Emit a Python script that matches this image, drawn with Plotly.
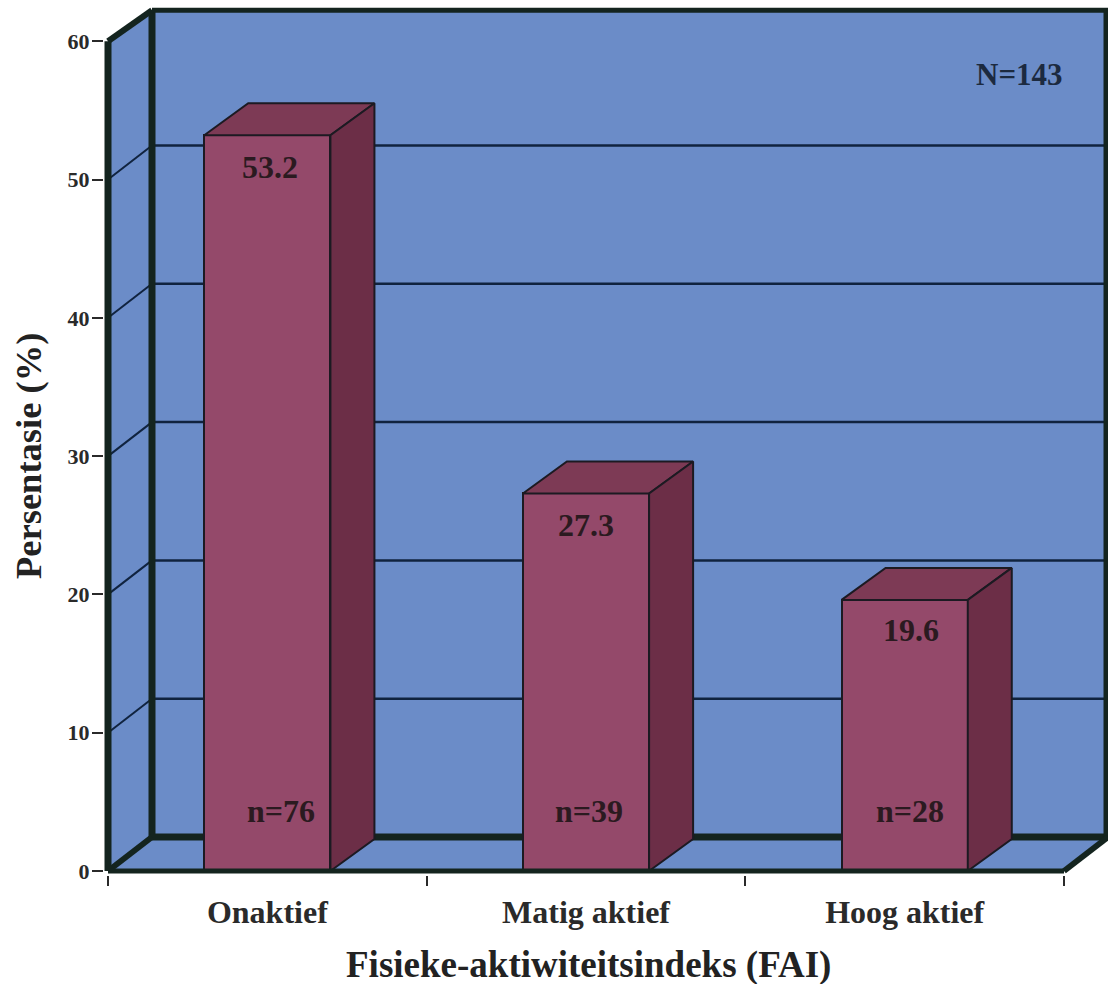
import plotly.graph_objects as go

categories = ["Onaktief", "Matig aktief", "Hoog aktief"]
percentages = [53.2, 27.3, 19.6]
counts = ["n=76", "n=39", "n=28"]
y_ticks = [0, 10, 20, 30, 40, 50, 60]
x_edges = [-0.5, 0.5, 1.5, 2.5]

PX_X = 318.67
PX_Y = 13.83
BAR_W = 0.396
DX = 44 / PX_X
DY = 32 / PX_Y
WALL_DY = 34 / PX_Y
TOP_DY = 31 / PX_Y
X0, X1 = -0.5, 2.5
Y_TOP = 60
WALL = "#6b8cc8"
EDGE = "#14241f"
GRID = "#10233f"
FRONT = "#94496a"
TOP = "#7d3a55"
SIDE = "#6c2e47"
BAR_EDGE = "#1c1a22"
FONT = "Liberation Serif"
PLOT_L, PLOT_B, W = 104, 875, 1108


def poly(xs, ys, fill):
    path = "M " + " L ".join(f"{x},{y}" for x, y in zip(xs, ys)) + " Z"
    return dict(type="path", path=path, xref="x", yref="y", fillcolor=fill,
                line=dict(color="rgba(0,0,0,0)", width=0), layer="below")


def seg(x0, y0, x1, y1, color, width, layer="below"):
    return dict(type="line", xref="x", yref="y", x0=x0, y0=y0, x1=x1, y1=y1,
                line=dict(color=color, width=width), layer=layer)


wall_top = Y_TOP + TOP_DY
shapes = [
    poly([X0 + DX, X1 + DX, X1 + DX, X0 + DX], [WALL_DY, WALL_DY, wall_top, wall_top], WALL),
    poly([X0, X0 + DX, X0 + DX, X0], [0, WALL_DY, wall_top, Y_TOP], WALL),
    poly([X0, X1, X1 + DX, X0 + DX], [0, 0, WALL_DY, WALL_DY], WALL),
]
for t in y_ticks[1:-1]:
    shapes.append(seg(X0 + DX, t + WALL_DY, X1 + DX, t + WALL_DY, GRID, 2.5))
    shapes.append(seg(X0, t, X0 + DX, t + WALL_DY, GRID, 2))
shapes += [
    seg(X0 + DX, WALL_DY, X1 + DX, WALL_DY, EDGE, 7),
    seg(X0 + DX, WALL_DY, X0 + DX, wall_top, EDGE, 7),
    seg(X0 + DX, wall_top, X1 + DX, wall_top, EDGE, 5),
    seg(X1 + DX, WALL_DY, X1 + DX, wall_top, EDGE, 9),
    seg(X0, Y_TOP, X0 + DX, wall_top, EDGE, 6),
    seg(X0, 0, X0 + DX, WALL_DY, EDGE, 6),
    seg(X1, 0, X1 + DX, WALL_DY, EDGE, 6),
    seg(X0, 0, X0, Y_TOP, EDGE, 7),
    seg(X0, 0, X1, 0, EDGE, 5, layer="above"),
]

fig = go.Figure()
fig.add_trace(go.Bar(x=list(range(3)), y=percentages, width=BAR_W, marker=dict(
    color=FRONT, line=dict(color=BAR_EDGE, width=2)), hoverinfo="skip", showlegend=False))

for i, v in enumerate(percentages):
    l, r = i - BAR_W / 2, i + BAR_W / 2
    fig.add_trace(go.Scatter(x=[l, r, r + DX, l + DX, l], y=[v, v, v + DY, v + DY, v], mode="lines",
                             fill="toself", fillcolor=TOP, line=dict(color=BAR_EDGE, width=2),
                             hoverinfo="skip", showlegend=False))
    fig.add_trace(go.Scatter(x=[r, r + DX, r + DX, r, r], y=[0, DY, v + DY, v, 0], mode="lines",
                             fill="toself", fillcolor=SIDE, line=dict(color=BAR_EDGE, width=2),
                             hoverinfo="skip", showlegend=False))

annotations = []
value_shift = [3, 0, 6]
count_shift = [14, 3, 5]
value_lift = [-32, -32, -30]
for i, (v, c) in enumerate(zip(percentages, counts)):
    annotations.append(dict(x=i, y=v, text=f"<b>{v}</b>", xref="x", yref="y", showarrow=False,
                            yshift=value_lift[i], xshift=value_shift[i],
                            font=dict(family=FONT, size=32, color="#2b1a20")))
    annotations.append(dict(x=i, y=0, text=f"<b>{c}</b>", xref="x", yref="y", showarrow=False,
                            yshift=60, xshift=count_shift[i], font=dict(family=FONT, size=32, color="#2b1a20")))
annotations.append(dict(x=2.5, y=57.6, text="<b>N=143</b>", xref="x", yref="y", showarrow=False,
                        xanchor="right", xshift=1, font=dict(family=FONT, size=31, color="#1c2a40")))
annotations.append(dict(x=(588 - PLOT_L) / (W - PLOT_L), y=(PLOT_B - 965) / PLOT_B, xref="paper", yref="paper",
                        xanchor="center", yanchor="middle",
                        text="<b>Fisieke-aktiwiteitsindeks (FAI)</b>", showarrow=False,
                        font=dict(family=FONT, size=37, color="#222222")))
annotations.append(dict(x=(28 - PLOT_L) / (W - PLOT_L), y=(PLOT_B - 456) / PLOT_B, xref="paper", yref="paper",
                        xanchor="center", yanchor="middle",
                        text="<b>Persentasie (%)</b>", showarrow=False, textangle=-90,
                        font=dict(family=FONT, size=36.5, color="#222222")))

fig.update_layout(
    width=W, height=984, margin=dict(l=PLOT_L, r=0, t=0, b=984 - PLOT_B), autosize=False,
    paper_bgcolor="white", plot_bgcolor="white", bargap=0, showlegend=False,
    shapes=shapes, annotations=annotations,
    xaxis=dict(range=[-0.5 - 4 / PX_X, -0.5 + 1000 / PX_X], tickvals=[0, 1, 2],
               ticktext=[f"<b>{c}</b>" for c in categories],
               ticks="", showgrid=False, zeroline=False, showline=False, ticklabelstandoff=15,
               tickfont=dict(family=FONT, size=32, color="#2a2a2a"),
               minor=dict(tickvals=x_edges, ticks="outside", ticklen=10, tickwidth=2, tickcolor="#2a2a2a")),
    yaxis=dict(range=[-4 / PX_Y, 871 / PX_Y], tickvals=y_ticks, ticktext=[f"<b>{t}</b>" for t in y_ticks],
               ticks="outside", ticklen=11, tickwidth=2, tickcolor="#2a2a2a",
               showgrid=False, zeroline=False, showline=False, ticklabelstandoff=-2,
               tickfont=dict(family=FONT, size=22, color="#2a2a2a")),
)

fig.write_html("out.html", config={"displayModeBar": False}, post_script="document.body.style.margin='0';")
